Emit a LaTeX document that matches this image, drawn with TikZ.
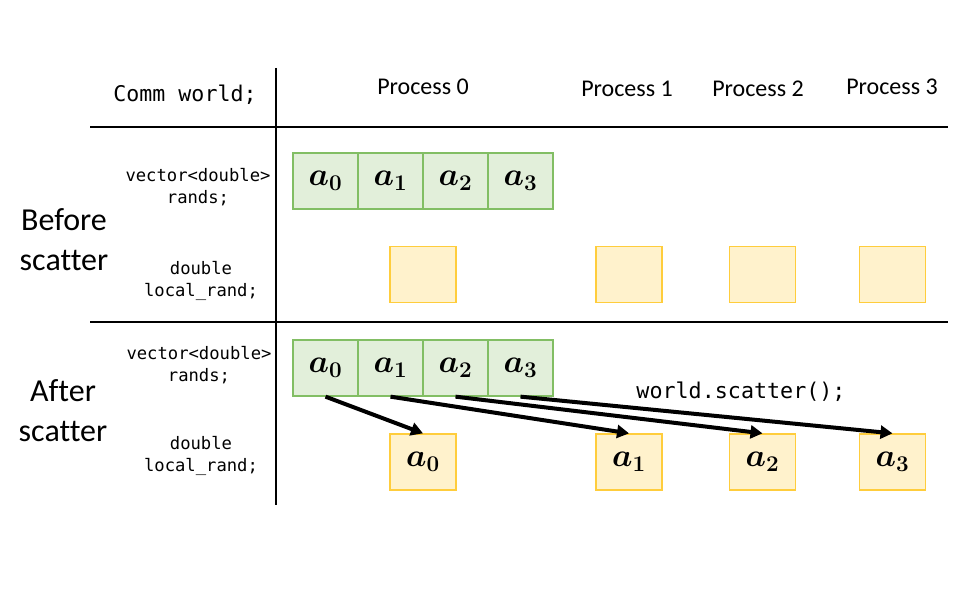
\documentclass[tikz,border=0pt]{standalone}
\usepackage{graphicx}
\usepackage{fontspec}
\setmainfont[Ligatures=NoCommon]{Carlito}
\setmonofont{DejaVu Sans Mono}
\usepackage{bm}
\usetikzlibrary{arrows.meta, positioning}
\definecolor{colGreen}{RGB}{226, 239, 218}
\definecolor{colGreenLine}{RGB}{130, 190, 100}
\definecolor{colYellow}{RGB}{255, 242, 204}
\definecolor{colYellowLine}{RGB}{255, 205, 60}
\newcommand{\aval}[1]{\scalebox{1.3}{$\bm{a}_{\bm{#1}}$}}

\begin{document}
\begin{tikzpicture}[x=1pt, y=-1pt,
    cellbox/.style={draw=colGreenLine, fill=colGreen, line width=1.3pt, minimum width=65pt, minimum height=56pt, inner sep=0pt, font=\fontsize{24}{26}\selectfont},
    localbox/.style={draw=colYellowLine, fill=colYellow, line width=1.3pt, minimum width=66pt, minimum height=56pt, inner sep=0pt, font=\fontsize{24}{26}\selectfont},
    code/.style={font=\ttfamily\fontsize{17.2}{21.5}\selectfont, align=center},
    proc/.style={font=\fontsize{24}{26}\selectfont},
    phase/.style={font=\fontsize{32}{40}\selectfont, align=center},
    sep/.style={line width=2.6pt}]
    \useasboundingbox (0, 0) rectangle (960, 607);

    % --- Kopfzeile ---
    \node[code, font=\ttfamily\fontsize{21.6}{24}\selectfont] (comm) at (185, 95) {Comm world;};
    \node[proc] (p0) at (423, 87) {Process 0};
    \node[proc] (p1) at (627, 89) {Process 1};
    \node[proc] (p2) at (758, 89) {Process 2};
    \node[proc] (p3) at (892, 87) {Process 3};

    % Trennlinien
    \draw[sep] (276, 68) -- (276, 505);
    \draw[sep] (90, 127) -- (948, 127);
    \draw[sep] (90, 322) -- (948, 322);

    % --- Vor scatter ---
    \node[phase] (before) at (64, 240) {Before\\scatter};
    \node[code] (vecA) at (198, 187) {vector<double>\\rands;};
    \node[code] (locA) at (201, 281) {double\\local\_rand;};
    \foreach \i in {0,...,3}
        \node[cellbox] (top\i) at ({325.5+65*\i}, 181) {\aval{\i}};
    \foreach \i/\x in {0/423, 1/629, 2/762.5, 3/892.5}
        \node[localbox] (empty\i) at (\x, 274.5) {};

    % --- Nach scatter ---
    \node[phase] (after) at (63, 411) {After\\scatter};
    \node[code] (vecB) at (199, 365) {vector<double>\\rands;};
    \node[code] (locB) at (201, 456) {double\\local\_rand;};
    \foreach \i in {0,...,3}
        \node[cellbox] (bot\i) at ({325.5+65*\i}, 368) {\aval{\i}};
    \foreach \i/\x in {0/423, 1/629, 2/762.5, 3/892.5}
        \node[localbox] (loc\i) at (\x, 462) {\aval{\i}};

    \node[code, font=\ttfamily\fontsize{21.7}{24}\selectfont] (call) at (741, 392) {world.scatter();};

    % Pfeile: scatter
    \foreach \i in {0,...,3}
        \draw[line width=4pt, -{Triangle[length=12pt, width=13pt]}] (bot\i.south) -- (loc\i.north);
\end{tikzpicture}
\end{document}
